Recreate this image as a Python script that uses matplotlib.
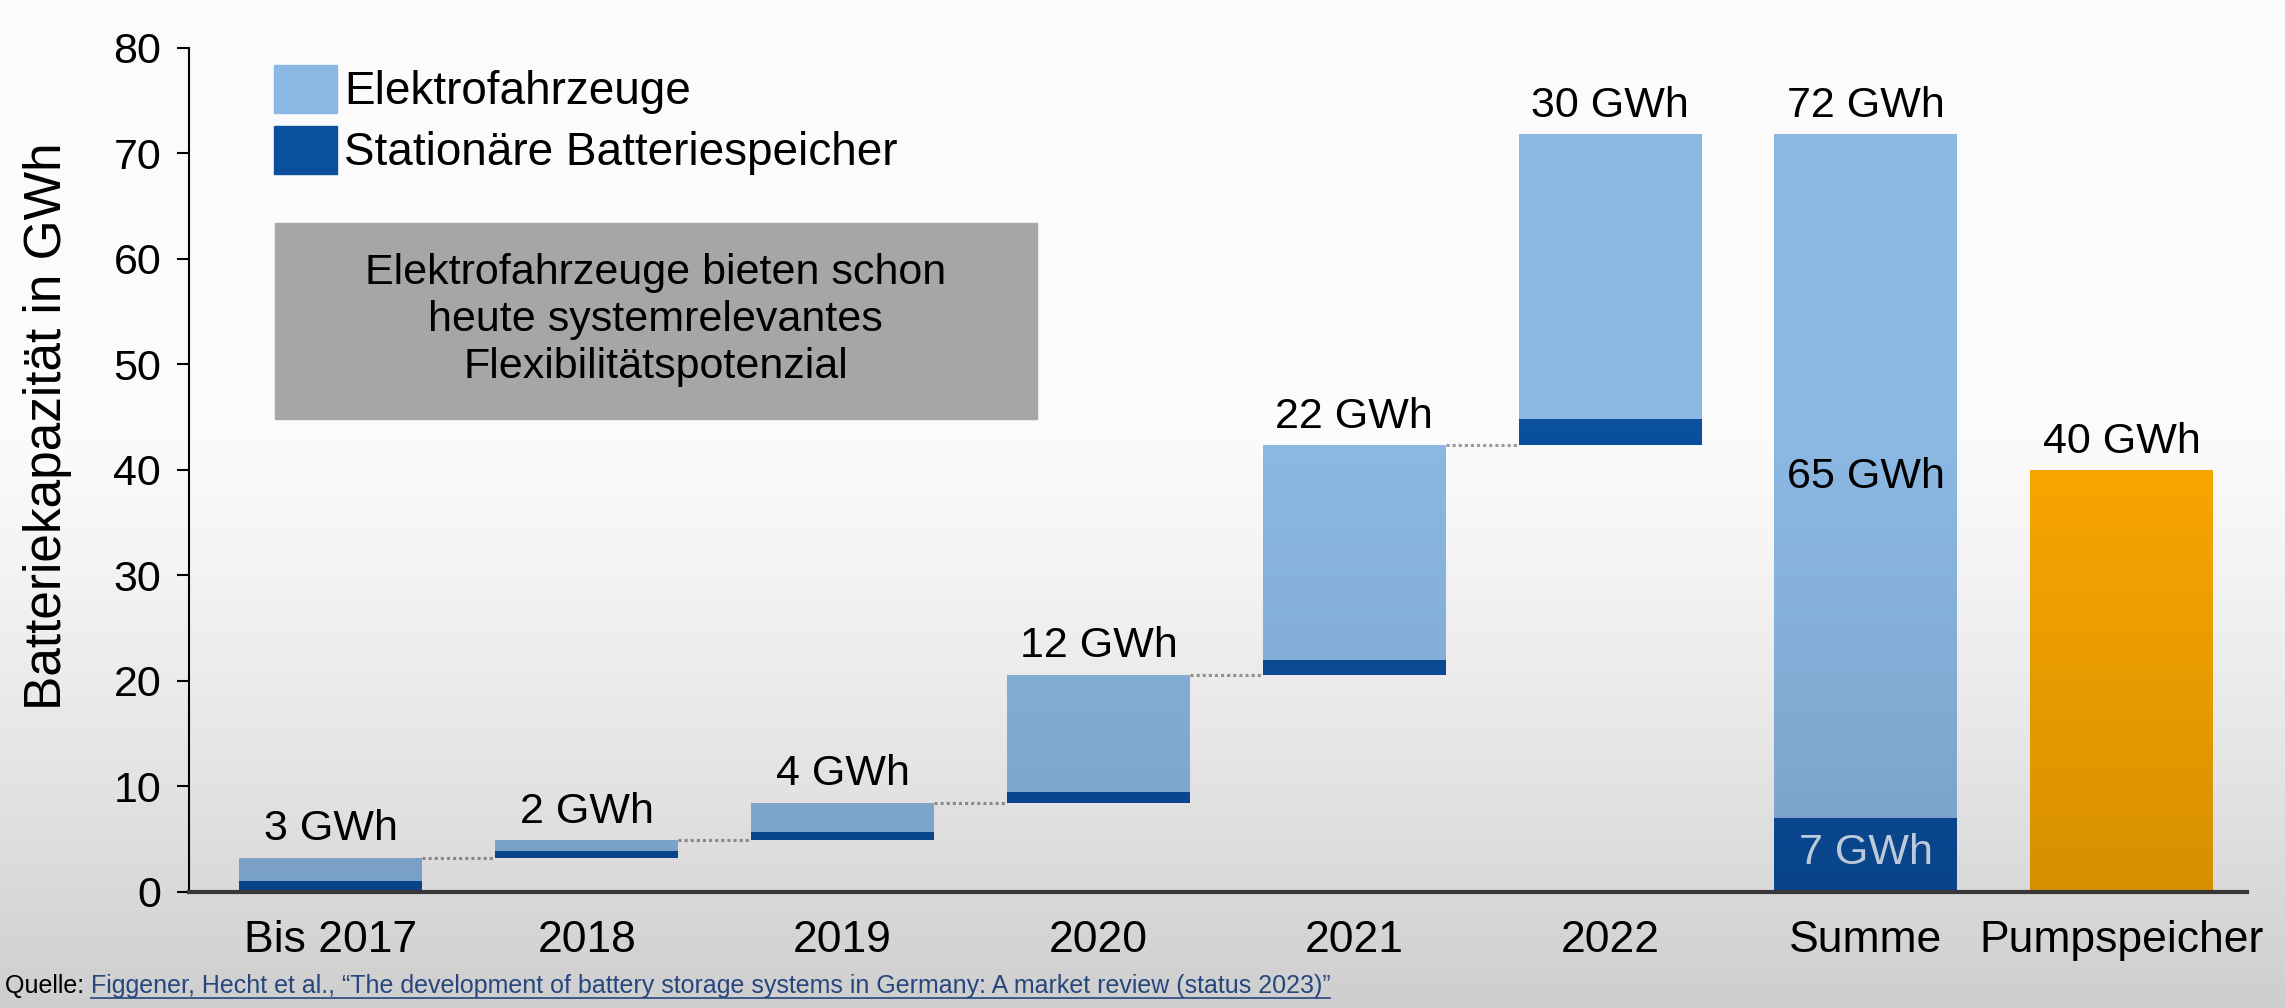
import numpy as np
import matplotlib.pyplot as plt
from matplotlib.patches import Patch, Rectangle
from matplotlib.lines import Line2D

plt.rcParams['font.family'] = ['Liberation Sans', 'DejaVu Sans']

categories = ["Bis 2017", "2018", "2019", "2020", "2021", "2022", "Summe", "Pumpspeicher"]
stationaer = [1.0, 0.65, 0.8, 1.05, 1.35, 2.45]
elektro = [2.25, 1.0, 2.75, 11.1, 20.4, 27.0]
jahr_labels = ["3 GWh", "2 GWh", "4 GWh", "12 GWh", "22 GWh", "30 GWh"]
summe_stationaer = 7.0
summe_elektro = 64.8
summe_labels = ["72 GWh", "65 GWh", "7 GWh"]
pumpspeicher = 40.0
pump_label = "40 GWh"
yticks = [0, 10, 20, 30, 40, 50, 60, 70, 80]

c_ev = "#8cb8e4"
c_stat = "#0b4f9f"
c_pump = "#f8a600"
c_box = "#a6a6a6"
fs = 31

fig = plt.figure(figsize=(22.85, 10.08), dpi=100)
fig.patch.set_facecolor("#fbfbfb")
ax = fig.add_axes([0.0827, 0.1151, 0.9007, 0.8373])
ax.set_facecolor("none")

w = 0.715
x = np.arange(len(categories))
tops = np.cumsum(np.array(stationaer) + np.array(elektro))
bottoms = np.concatenate([[0], tops[:-1]])

ax.bar(x[:6], stationaer, w, bottom=bottoms, color=c_stat, zorder=3)
ax.bar(x[:6], elektro, w, bottom=bottoms + np.array(stationaer), color=c_ev, zorder=3)
for i in range(6):
    ax.annotate(jahr_labels[i], (x[i], tops[i]), xytext=(0, 6), textcoords="offset points",
                ha="center", va="bottom", fontsize=fs)
for i in range(5):
    ax.plot([x[i] + w / 2, x[i + 1] - w / 2], [tops[i], tops[i]], color="#9a9a9a",
            lw=2.2, ls=(0, (1, 1)), zorder=2)

# Summe
ax.bar(x[6], summe_stationaer, w, color=c_stat, zorder=3)
ax.bar(x[6], summe_elektro, w, bottom=summe_stationaer, color=c_ev, zorder=3)
ax.annotate(summe_labels[0], (x[6], summe_stationaer + summe_elektro), xytext=(0, 6),
            textcoords="offset points", ha="center", va="bottom", fontsize=fs)
ax.text(x[6], 39.3, summe_labels[1], ha="center", va="center", fontsize=fs, zorder=4)
ax.text(x[6], 3.7, summe_labels[2], ha="center", va="center", fontsize=fs,
        color="#d6e6f7", zorder=4)

# Pumpspeicher
ax.bar(x[7], pumpspeicher, w, color=c_pump, zorder=3)
ax.annotate(pump_label, (x[7], pumpspeicher), xytext=(0, 6), textcoords="offset points",
            ha="center", va="bottom", fontsize=fs)

# Textbox
ax.add_patch(Rectangle((-0.22, 44.8), 2.98, 18.6, color=c_box, zorder=2))
ax.text(1.27, 54.2, "Elektrofahrzeuge bieten schon\nheute systemrelevantes\nFlexibilitätspotenzial",
        ha="center", va="center", fontsize=fs, linespacing=1.22, zorder=3)

ax.set_xlim(-0.555, 7.49)
ax.set_ylim(0, 80)
ax.set_yticks(yticks)
ax.set_xticks(x)
ax.set_xticklabels(categories)
ax.tick_params(axis="x", length=0, pad=20, labelsize=32)
ax.tick_params(axis="y", length=9, width=1.5, pad=11, labelsize=fs)
ax.spines["top"].set_visible(False)
ax.spines["right"].set_visible(False)
ax.spines["left"].set_linewidth(1.5)
ax.spines["bottom"].set_color("#404040")
ax.spines["bottom"].set_linewidth(3)
ax.spines["bottom"].set_zorder(5)
ax.set_ylabel("Batteriekapazität in GWh", fontsize=37)
ax.yaxis.set_label_coords(-0.057, 0.552)

ax.legend(handles=[Patch(color=c_ev), Patch(color=c_stat)],
          labels=["Elektrofahrzeuge", "Stationäre Batteriespeicher"],
          loc="upper left", bbox_to_anchor=(0.0413, 0.98), frameon=False, fontsize=33,
          borderpad=0, borderaxespad=0, handlelength=1.375, handleheight=1.235,
          labelspacing=0.25, handletextpad=0.15)

# Quelle
q = fig.text(0.002, 0.015, "Quelle: ", fontsize=18, va="baseline")
fig.canvas.draw()
r = fig.canvas.get_renderer()
bb = q.get_window_extent(r)
W, H = fig.bbox.width, fig.bbox.height
link = fig.text(bb.x1 / W, 0.015,
                "Figgener, Hecht et al., “The development of battery storage systems in Germany: A market review (status 2023)”",
                fontsize=18, color="#2f5597", va="baseline")
bb2 = link.get_window_extent(r)
fig.add_artist(Line2D([bb2.x0 / W, bb2.x1 / W], [(0.015 * H - 5) / H] * 2, color="#2f5597", lw=1.2))

# leichte Abdunklung nach unten
ov = fig.add_axes([0, 0, 1, 1], zorder=10)
ov.axis("off")
t = np.linspace(0, 1, 400)
a = 0.18 * np.clip((t - 0.4) / 0.6, 0, 1) ** 1.3
grad = np.zeros((400, 1, 4))
grad[:, 0, 3] = a
ov.imshow(grad, extent=[0, 1, 0, 1], aspect="auto", interpolation="bilinear")
ov.set_xlim(0, 1)
ov.set_ylim(0, 1)

fig.savefig("out.png", dpi=100)
